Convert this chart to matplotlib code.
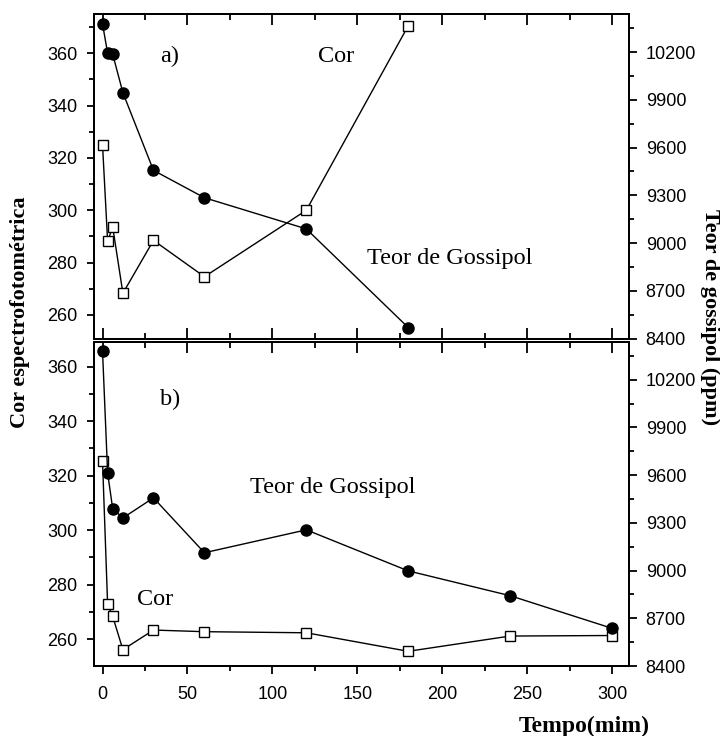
import matplotlib
matplotlib.use('Agg')
import matplotlib.pyplot as plt
from matplotlib.ticker import MultipleLocator

# tempos de amostragem (min)
tempo_a = [0, 3, 6, 12, 30, 60, 120, 180]
tempo_b = [0, 3, 6, 12, 30, 60, 120, 180, 240, 300]

# a) cor espectrofotométrica e teor de gossipol (ppm)
cor_a = [325.0, 288.2, 293.6, 268.3, 288.5, 274.6, 300.0, 370.5]
goss_a = [10378, 10194, 10187, 9945, 9457, 9285, 9089, 8469]

# b)
cor_b = [325.4, 272.7, 268.3, 256.1, 263.3, 262.7, 262.3, 255.5, 261.1, 261.3]
goss_b = [10380, 9614, 9388, 9331, 9457, 9112, 9256, 8998, 8842, 8637]

plt.rcParams['font.family'] = ['Liberation Sans', 'DejaVu Sans']
serif = ['Liberation Serif', 'DejaVu Serif']

fig = plt.figure(figsize=(7.2, 7.36), dpi=100)
ax1 = fig.add_axes([0.1306, 1 - 338.5 / 736, 0.743, 324.5 / 736])
ax2 = fig.add_axes([0.1306, 0.0951, 0.743, 324.5 / 736])

LW = 1.4


def montar(ax, t, cor, goss, ylim_esq):
    axr = ax.twinx()
    ax.plot(t, cor, color='black', lw=1, marker='s', ms=6.5, mfc='white',
            mec='black', mew=1, zorder=3)
    axr.plot(t, goss, color='black', lw=1, marker='o', ms=8, mfc='black',
             mec='black', zorder=3)
    ax.set_xlim(-5, 310)
    ax.set_ylim(*ylim_esq)
    axr.set_ylim(8400, 10440)
    ax.xaxis.set_major_locator(MultipleLocator(50))
    ax.xaxis.set_minor_locator(MultipleLocator(25))
    ax.yaxis.set_major_locator(MultipleLocator(20))
    ax.yaxis.set_minor_locator(MultipleLocator(10))
    axr.yaxis.set_major_locator(MultipleLocator(300))
    axr.yaxis.set_minor_locator(MultipleLocator(150))
    for a in (ax, axr):
        for s in a.spines.values():
            s.set_linewidth(LW)
    ax.tick_params(axis='y', which='both', direction='out', width=1.3,
                   labelsize=13, right=False, pad=7)
    ax.tick_params(axis='y', which='major', length=5)
    ax.tick_params(axis='y', which='minor', length=3.4)
    axr.tick_params(axis='y', which='both', direction='out', width=1.3,
                    labelsize=13, pad=6.5)
    axr.tick_params(axis='y', which='major', length=5.5)
    axr.tick_params(axis='y', which='minor', length=3.6)
    return axr


ax1r = montar(ax1, tempo_a, cor_a, goss_a, (251, 375))
ax2r = montar(ax2, tempo_b, cor_b, goss_b, (250.1, 369.25))

# eixo x do painel a): marcas para dentro em cima e em baixo
ax1.tick_params(axis='x', which='both', top=True, bottom=True, direction='in',
                width=1.3, labelbottom=False)
ax1.tick_params(axis='x', which='major', length=8)
ax1.tick_params(axis='x', which='minor', length=4.5)

# eixo x do painel b): para fora embaixo, para dentro em cima
ax2.tick_params(axis='x', which='both', top=False, bottom=True,
                direction='out', width=1.3, labelsize=13, pad=9)
ax2.tick_params(axis='x', which='major', length=5.5)
ax2.tick_params(axis='x', which='minor', length=3.6)
sec = ax2.secondary_xaxis('top')
sec.xaxis.set_major_locator(MultipleLocator(50))
sec.xaxis.set_minor_locator(MultipleLocator(25))
sec.tick_params(axis='x', which='both', direction='in', width=1.3,
                labeltop=False)
sec.tick_params(axis='x', which='major', length=8)
sec.tick_params(axis='x', which='minor', length=4.5)
sec.spines['top'].set_linewidth(LW)

ax1.text(0.123, 0.868, 'a)', transform=ax1.transAxes, fontsize=17.5,
         family=serif, va='center')
ax1.text(0.419, 0.868, 'Cor', transform=ax1.transAxes, fontsize=17.5,
         family=serif, va='center')
ax1.text(0.510, 0.245, 'Teor de Gossipol', transform=ax1.transAxes,
         fontsize=17.5, family=serif, va='center')
ax2.text(0.123, 0.822, 'b)', transform=ax2.transAxes, fontsize=17.5,
         family=serif, va='center')
ax2.text(0.2916, 0.55, 'Teor de Gossipol', transform=ax2.transAxes,
         fontsize=17.5, family=serif, va='center')
ax2.text(0.080, 0.2055, 'Cor', transform=ax2.transAxes, fontsize=17.5,
         family=serif, va='center')

fig.text(0.028, 0.576, 'Cor espectrofotométrica', rotation=90, ha='center',
         va='center', fontsize=16, fontweight='bold', family=serif)
fig.text(0.986, 0.569, 'Teor de gossipol (ppm)', rotation=-90, ha='center',
         va='center', fontsize=16, fontweight='bold', family=serif)
fig.text(0.812, 0.0126, 'Tempo(mim)', ha='center', va='center', fontsize=17,
         fontweight='bold', family=serif)

fig.savefig('out.png', dpi=100)
